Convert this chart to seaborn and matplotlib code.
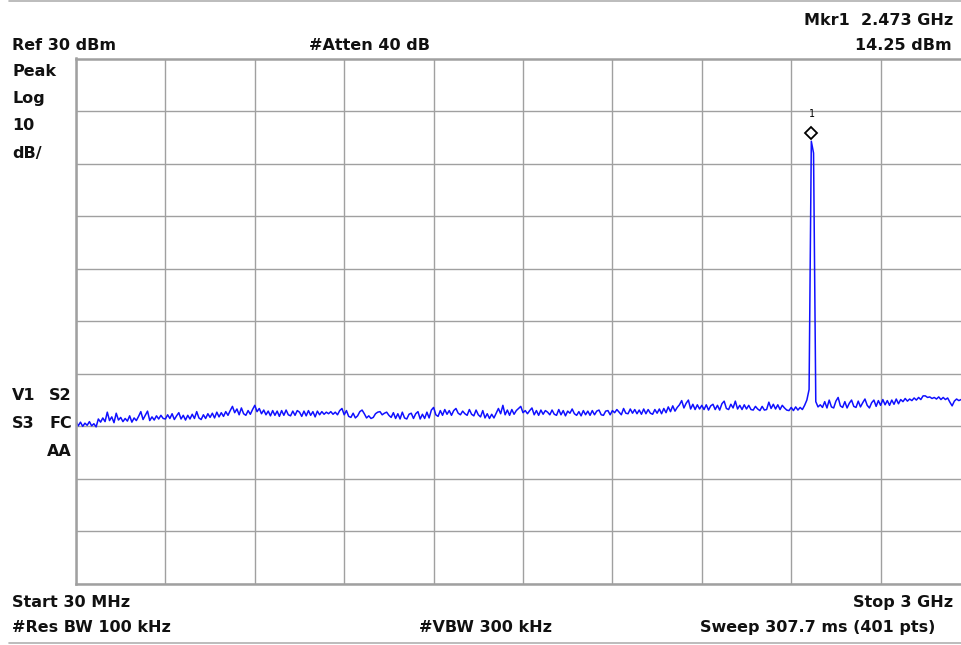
import numpy as np
import matplotlib
matplotlib.use("Agg")
import matplotlib.pyplot as plt
from matplotlib.lines import Line2D
from matplotlib.transforms import ScaledTranslation
import seaborn as sns

# Sweep settings
start_mhz = 30.0
stop_mhz = 3000.0
n_points = 401
ref_level = 30.0
db_per_div = 10.0

# Marker 1
mkr_freq_mhz = 2473.0
mkr_level_dbm = 14.25

# Trace, peak-detected levels in dBm (401 sweep points)
trace_dbm = [
    -39.0, -39.9, -39.2, -40.0, -39.4, -39.8, -39.1, -39.9, -39.5, -40.1,
    -38.6, -39.2, -38.4, -39.1, -37.3, -38.9, -38.2, -39.3, -37.5, -38.8,
    -38.3, -39.1, -38.5, -39.0, -38.0, -39.2, -38.4, -38.9, -38.1, -37.2,
    -38.7, -37.9, -37.1, -38.9, -38.2, -38.8, -38.0, -38.6, -37.9, -38.5,
    -38.6, -37.8, -38.5, -37.6, -38.7, -38.0, -37.4, -38.6, -37.9, -38.8,
    -37.9, -38.6, -37.7, -38.5, -37.2, -38.4, -38.7, -37.8, -38.5, -37.6,
    -38.3, -37.5, -38.4, -37.3, -38.2, -37.4, -38.1, -37.2, -37.9, -37.0,
    -36.2, -37.4, -36.7, -37.8, -36.5, -37.6, -37.9, -37.0, -37.7, -36.8,
    -36.0, -37.2, -36.6, -37.6, -36.9, -37.8, -37.1, -38.0, -37.0, -37.9,
    -37.1, -38.1, -37.0, -37.9, -36.9, -37.8, -38.0, -37.1, -37.9, -37.0,
    -37.3, -38.1, -37.1, -38.0, -37.0, -37.9, -37.2, -38.2, -37.1, -37.8,
    -37.2, -37.7, -37.3, -37.6, -37.2, -37.7, -37.3, -37.8, -37.0, -36.6,
    -37.8, -37.0, -38.1, -38.3, -37.5, -38.4, -38.0, -37.2, -36.9, -37.6,
    -38.4, -38.0, -38.5, -38.3, -37.6, -37.3, -37.2, -37.8, -37.5, -37.3,
    -37.9, -38.3, -37.4, -38.5, -37.6, -38.6, -37.3, -38.4, -38.6, -37.7,
    -37.5, -38.5, -37.6, -37.2, -38.6, -37.7, -38.5, -37.3, -38.4, -36.9,
    -36.4, -37.8, -38.1, -37.0, -37.9, -36.8, -37.7, -37.0, -37.9, -37.0,
    -36.6, -37.5, -37.8, -37.1, -37.6, -37.9, -36.8, -37.7, -38.0, -36.9,
    -37.8, -38.2, -37.0, -38.4, -37.6, -38.5, -37.7, -38.4, -37.5, -36.6,
    -37.6, -36.0, -37.8, -36.9, -37.9, -36.8, -37.7, -37.0, -36.6, -36.2,
    -37.4, -37.0, -37.6, -37.0, -36.5, -37.8, -37.0, -37.9, -36.9, -37.7,
    -37.0, -37.3, -37.8, -36.9, -37.7, -37.9, -36.8, -37.8, -37.0, -38.0,
    -37.1, -37.5, -36.7, -37.6, -37.9, -37.2, -38.0, -37.0, -37.8, -37.1,
    -37.9, -37.0, -37.8, -37.1, -36.9, -37.8, -37.9, -37.1, -37.0, -37.8,
    -37.0, -37.4, -36.8, -37.3, -37.8, -36.6, -37.5, -37.6, -36.7, -37.5,
    -36.8, -37.6, -36.9, -37.7, -36.7, -37.6, -36.8, -37.5, -37.7, -36.8,
    -37.5, -36.7, -37.6, -36.6, -37.4, -36.3, -37.2, -36.1, -37.1, -36.4,
    -35.9, -35.1, -36.5, -35.6, -35.0, -36.7, -35.8, -36.8, -35.9, -36.7,
    -36.0, -36.8, -35.9, -36.9, -36.1, -35.8, -36.8, -36.0, -36.9, -35.7,
    -35.2, -36.6, -36.8, -35.8, -36.5, -35.2, -36.7, -36.0, -36.8, -35.9,
    -36.7, -36.0, -36.8, -36.9, -36.2, -36.7, -37.0, -36.2, -36.9, -36.8,
    -35.4, -36.6, -35.8, -36.7, -35.9, -36.8, -36.0, -36.5, -36.9, -37.0,
    -36.4, -37.0, -36.3, -36.9, -36.4, -36.8, -36.0, -35.0, -33.0, 14.25,
    12.0, -35.3, -36.3, -35.9, -36.4, -35.3, -36.5, -35.0, -36.3, -36.5,
    -35.2, -34.5, -36.1, -36.4, -35.3, -36.5, -35.6, -35.0, -36.2, -36.4,
    -35.2, -36.3, -35.5, -34.8, -36.0, -36.5, -35.5, -35.0, -36.2, -35.1,
    -36.0, -34.9, -35.9, -35.1, -36.0, -35.0, -35.8, -34.8, -35.7, -34.9,
    -35.3, -34.7, -35.2, -34.8, -35.1, -34.6, -35.0, -34.5, -34.9, -34.2,
    -34.2, -34.5, -34.4, -34.7, -34.5, -34.8, -34.4, -34.9, -34.5, -34.9,
    -34.6, -35.4, -36.1, -35.2, -34.8, -35.1, -34.9, -35.3, -34.9, -35.4,
    -35.1,
]

W, H = 962, 645
sns.set_theme(style="white")
plt.rcParams["font.family"] = ["DejaVu Sans"]

fig = plt.figure(figsize=(W / 100, H / 100), dpi=100)
fig.patch.set_facecolor("white")

# Graticule: 10 x 10 divisions; the right edge runs slightly past the window
left_px, right_px, top_px, bottom_px = 76, 970, 58.5, 584
ax = fig.add_axes([left_px / W, 1 - bottom_px / H,
                   (right_px - left_px) / W, (bottom_px - top_px) / H])
ax.set_facecolor("white")

freq_mhz = np.linspace(start_mhz, stop_mhz, n_points)
sns.lineplot(x=freq_mhz, y=trace_dbm, ax=ax, color="#1010ff",
             linewidth=1.1, estimator=None, sort=False)

bottom_level = ref_level - 10 * db_per_div
ax.set_xlim(start_mhz, stop_mhz)
ax.set_ylim(bottom_level, ref_level)
ax.set_xticks(np.linspace(start_mhz, stop_mhz, 11))
ax.set_yticks(np.arange(bottom_level, ref_level + 0.1, db_per_div))
ax.tick_params(length=0, labelbottom=False, labelleft=False)
ax.set_xlabel("")
ax.set_ylabel("")
ax.grid(True, color="#a0a0a0", linewidth=1.0)
for side, sp in ax.spines.items():
    sp.set_visible(True)
    sp.set_color("#a0a0a0")
    sp.set_linewidth(1.8)

# Marker 1 diamond, drawn just above the peak, and its number
ax.plot([mkr_freq_mhz], [mkr_level_dbm], marker="D", markersize=6.5,
        markerfacecolor="white", markeredgecolor="black",
        markeredgewidth=1.3, linestyle="none",
        transform=ax.transData + ScaledTranslation(0, 8 / 100,
                                                   fig.dpi_scale_trans),
        zorder=5)
ax.annotate("1", xy=(mkr_freq_mhz, mkr_level_dbm), xytext=(0, 27),
            textcoords="offset pixels", ha="center", va="center",
            fontsize=7, family="DejaVu Sans Mono", color="black")


def label(txt, x, y, ha="left"):
    fig.text(x / W, 1 - y / H, txt, ha=ha, va="baseline",
             fontsize=11.5, fontweight="bold", color="#111111")


label("Ref 30 dBm", 12, 50)
label("#Atten 40 dB", 309, 50)
label("Mkr1  2.473 GHz", 953, 25, ha="right")
label("14.25 dBm", 952, 50, ha="right")
label("Peak", 12, 76)
label("Log", 12, 103)
label("10", 12, 130)
label("dB/", 12, 158)
label("V1", 12, 400)
label("S2", 71, 400, ha="right")
label("S3", 12, 428)
label("FC", 72, 428, ha="right")
label("AA", 72, 456, ha="right")
label("Start 30 MHz", 12, 607)
label("Stop 3 GHz", 953, 607, ha="right")
label("#Res BW 100 kHz", 12, 632)
label("#VBW 300 kHz", 552, 632, ha="right")
label("Sweep 307.7 ms (401 pts)", 935, 632, ha="right")

# Thin rules along the top and bottom of the window
for yy in (0.8, 643):
    fig.add_artist(Line2D([9 / W, 1.0], [1 - yy / H, 1 - yy / H],
                          color="#b0b0b0", linewidth=1.2))

fig.savefig("out.png", dpi=100, facecolor="white")
